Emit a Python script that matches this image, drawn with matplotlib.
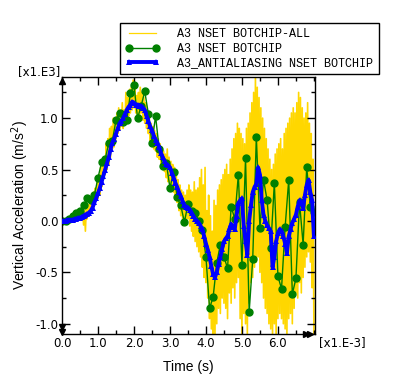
import numpy as np
import matplotlib.pyplot as plt
from matplotlib.lines import Line2D

# time in units of 1e-3 s, acceleration in units of 1e3 m/s^2
dt_all = 0.025
acc_all = [
    0.00, 0.00, 0.01, 0.00, 0.01, 0.00, 0.01, 0.02, 0.00, 0.01, 0.02, 0.01, 0.03, 0.01, 0.02, 0.03, 0.02, 0.04, 0.02, 0.03, 0.04,
    0.06, 0.02, 0.08, -0.04, 0.10, -0.10, 0.12, 0.02, 0.16, 0.05, 0.20, 0.08, 0.24, 0.12, 0.28, 0.15, 0.32, 0.20, 0.38, 0.22,
    0.45, 0.25, 0.52, 0.33, 0.60, 0.40, 0.62, 0.45, 0.75, 0.50, 0.80, 0.55, 0.90, 0.62, 0.92, 0.70, 1.00, 0.72, 0.98, 0.80,
    1.05, 0.85, 1.10, 0.88, 1.02, 0.92, 1.15, 0.90, 1.08, 0.95, 1.25, 0.98, 1.20, 1.02, 1.28, 1.05, 1.30, 1.08, 1.37, 1.10,
    1.30, 1.05, 1.22, 0.98, 1.25, 1.02, 1.30, 1.05, 1.25, 0.98, 1.20, 0.95, 1.15, 0.90, 1.05, 0.85, 1.02, 0.78, 0.95, 0.75,
    0.92, 0.70, 0.88, 0.68, 0.85, 0.62, 0.80, 0.60, 0.75, 0.55, 0.70, 0.50, 0.68, 0.48, 0.65, 0.42, 0.70, 0.38, 0.62, 0.35,
    0.58, 0.32, 0.55, 0.28, 0.52, 0.22, 0.45, 0.18, 0.40, 0.10, 0.35, 0.05, 0.30, 0.02, 0.28, -0.02, 0.25, 0.00, 0.30, 0.02,
    0.35, -0.05, 0.30, -0.10, 0.28, -0.15, 0.38, -0.20, 0.30, -0.25, 0.32, -0.30, 0.42, -0.35, 0.50, -0.45, 0.35, -0.55, 0.52, -0.60,
    0.10, -0.75, 0.25, -0.95, 0.05, -1.05, -0.10, -1.15, 0.20, -1.15, 0.15, -1.00, 0.30, -0.85, 0.35, -0.90, 0.40, -0.75, 0.45, -0.80,
    0.50, -0.85, 0.55, -0.95, 0.45, -0.70, 0.60, -0.80, 0.70, -0.65, 0.80, -0.75, 0.85, -0.60, 0.95, -0.55, 0.90, -0.95, 0.85, -1.15,
    0.80, -0.90, 0.75, -1.00, 0.90, -1.10, 0.95, -0.80, 1.05, -0.60, 1.15, -0.55, 1.25, -0.45, 1.40, -0.40, 1.30, -0.35, 1.20, -0.50,
    1.10, -0.60, 1.00, -0.75, 0.90, -0.85, 0.80, -0.90, 0.70, -1.00, 0.60, -1.05, 0.50, -1.10, 0.55, -1.00, 0.65, -1.15, 0.70, -0.95,
    0.75, -0.90, 0.80, -0.95, 0.70, -1.00, 0.85, -1.05, 0.90, -1.10, 0.95, -0.95, 1.00, -0.90, 1.05, -1.00, 1.10, -0.85, 1.05, -0.70,
    1.15, -0.75, 1.25, -0.60, 1.20, -0.70, 1.10, -0.55, 1.00, -0.45, 1.05, -0.35, 1.15, -0.30, 0.95, -0.40, 0.85, -0.65, 0.60, -1.10,
]

t_node = [0.0, 0.1, 0.2, 0.3, 0.4, 0.5, 0.6, 0.7, 0.8, 0.9,
          1.0, 1.1, 1.2, 1.3, 1.4, 1.5, 1.6, 1.7, 1.8, 1.9,
          2.0, 2.1, 2.2, 2.3, 2.4, 2.5, 2.6, 2.7, 2.8, 2.9,
          3.0, 3.1, 3.2, 3.3, 3.4, 3.5, 3.6, 3.7, 3.8, 3.9,
          4.0, 4.1, 4.2, 4.3, 4.4, 4.5, 4.6, 4.7, 4.8, 4.9,
          5.0, 5.1, 5.2, 5.3, 5.4, 5.5, 5.6, 5.7, 5.8, 5.9,
          6.0, 6.1, 6.2, 6.3, 6.4, 6.5, 6.6, 6.7, 6.8, 6.9, 7.0]
acc_node = [0.00, 0.00, 0.02, 0.05, 0.08, 0.10, 0.15, 0.22, 0.20, 0.25,
            0.42, 0.57, 0.60, 0.76, 0.78, 0.98, 1.05, 0.96, 0.98, 1.24,
            1.32, 1.00, 1.12, 1.26, 1.04, 0.76, 1.02, 0.70, 0.53, 0.56,
            0.32, 0.48, 0.23, 0.15, -0.01, 0.16, 0.10, 0.08, 0.00, -0.09,
            -0.35, -0.85, -0.74, -0.41, -0.23, -0.35, -0.46, 0.14, 0.02, 0.45,
            -0.43, 0.61, -0.89, -0.37, 0.82, -0.07, 0.40, 0.20, -0.26, 0.37,
            -0.54, -0.66, -0.06, 0.40, -0.71, -0.56, 0.18, -0.23, 0.52, 0.14, 0.09]

dt_aa = 0.05
acc_aa = [
    0.00, 0.00, 0.00, 0.01, 0.01, 0.01, 0.01, 0.02, 0.02, 0.03,
    0.03, 0.04, 0.05, 0.06, 0.07, 0.08, 0.10, 0.13, 0.18, 0.22,
    0.27, 0.32, 0.38, 0.44, 0.50, 0.56, 0.62, 0.70, 0.76, 0.80,
    0.85, 0.90, 0.95, 0.97, 1.00, 1.04, 1.08, 1.11, 1.13, 1.16,
    1.15, 1.13, 1.13, 1.12, 1.12, 1.10, 1.08, 1.02, 0.97, 0.92,
    0.88, 0.83, 0.79, 0.76, 0.72, 0.66, 0.62, 0.58, 0.55, 0.54,
    0.52, 0.47, 0.42, 0.37, 0.33, 0.28, 0.24, 0.19, 0.15, 0.14,
    0.13, 0.11, 0.08, 0.05, 0.02, 0.00, -0.02, -0.05, -0.08, -0.15,
    -0.22, -0.28, -0.35, -0.44, -0.52, -0.55, -0.50, -0.42, -0.35, -0.27,
    -0.20, -0.17, -0.15, -0.08, -0.03, -0.06, -0.08, 0.05, 0.17, 0.20,
    0.22, -0.05, -0.20, -0.33, 0.00, 0.15, 0.28, 0.33, 0.36, 0.52,
    0.45, 0.20, 0.06, 0.00, -0.04, -0.07, -0.10, -0.45, -0.35, -0.20,
    -0.12, -0.08, -0.10, -0.15, -0.22, -0.31, -0.15, -0.08, -0.02, 0.02,
    0.06, 0.14, 0.20, 0.17, 0.13, 0.25, 0.35, 0.40, 0.28, 0.20, -0.15,
]

labels = ['A3 NSET BOTCHIP-ALL', 'A3 NSET BOTCHIP', 'A3_ANTIALIASING NSET BOTCHIP']

t_all = np.arange(len(acc_all)) * dt_all
t_aa = np.arange(len(acc_aa)) * dt_aa

W, H = 396, 385
fig = plt.figure(figsize=(W / 100, H / 100), dpi=100)
ax = fig.add_axes([62 / W, 1 - 334 / H, (315 - 62) / W, (334 - 77) / H])

ax.plot(t_all, acc_all, color='#FFD700', lw=1.2, zorder=1)
ax.plot(t_node, acc_node, color='#008000', lw=1.0, marker='o', ms=5,
        markerfacecolor='#008000', markeredgecolor='#008000', zorder=2)
ax.plot(t_aa, acc_aa, color='#0000FF', lw=2.8, marker='^', ms=5,
        markeredgewidth=0, zorder=3)

ax.set_xlim(0, 7.03)
ax.set_ylim(-1.10, 1.40)
ax.set_xticks(np.arange(0, 7, 1.0))
ax.set_xticks(np.arange(0, 7.01, 0.5), minor=True)
ax.set_yticks([-1.0, -0.5, 0.0, 0.5, 1.0])
ax.set_yticks(np.arange(-1.0, 1.3, 0.25), minor=True)
ax.xaxis.set_major_formatter(plt.FormatStrFormatter('%.1f'))
ax.yaxis.set_major_formatter(plt.FormatStrFormatter('%.1f'))
ax.tick_params(which='both', direction='in', top=True, right=True, labelsize=8.5, width=1)
ax.tick_params(which='major', length=6, pad=2.5)
ax.tick_params(which='minor', length=3)
for s in ax.spines.values():
    s.set_linewidth(1.0)

ax.set_xlabel('Time (s)', family='Liberation Sans', fontsize=10, labelpad=7)
ax.set_ylabel('Vertical Acceleration (m/s$^2$)', family='Liberation Sans', fontsize=10, labelpad=3)

fig.text(18 / W, 1 - 72 / H, '[x1.E3]', fontsize=8.5, va='center', ha='left')
fig.text(319 / W, 1 - 343 / H, '[x1.E-3]', fontsize=8.5, va='center', ha='left')

# axis end arrows
ax.plot([0], [1.36], marker='^', color='black', ms=5, clip_on=False, zorder=5)
ax.plot([0, 0], [-1.03, -1.08], ls='none', marker='v', color='black', ms=4, clip_on=False, zorder=5)
ax.plot([6.78, 6.88], [-1.10, -1.10], ls='none', marker='>', color='black', ms=4, clip_on=False, zorder=5)

handles = [
    Line2D([], [], color='#FFD700', lw=0.9),
    Line2D([], [], color='#008000', lw=1.0, marker='o', ms=5),
    Line2D([], [], color='#0000FF', lw=2.8, marker='^', ms=4, markeredgewidth=0),
]
leg = fig.legend(handles, labels, loc='upper left', bbox_to_anchor=(120 / W, 1 - 23 / H),
                 frameon=True, fancybox=False, edgecolor='black', framealpha=1,
                 prop={'family': 'Liberation Mono', 'size': 8.5}, numpoints=2,
                 handlelength=2.9, handletextpad=1.5, labelspacing=0.2,
                 borderpad=0.45, borderaxespad=0)
leg.get_frame().set_linewidth(1.0)

fig.savefig('out.png', dpi=100)
